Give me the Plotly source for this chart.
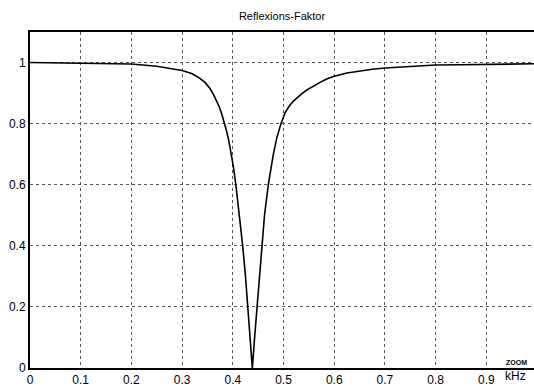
import plotly.graph_objects as go

freq_khz = [0.0, 0.05, 0.1, 0.15, 0.2, 0.25, 0.28, 0.3, 0.32, 0.335, 0.345, 0.355, 0.362,
            0.368, 0.373, 0.378, 0.383, 0.387, 0.392, 0.397, 0.401, 0.406, 0.413, 0.4195,
            0.425, 0.4293, 0.434, 0.4385, 0.443, 0.448, 0.4525, 0.4565, 0.4625, 0.470,
            0.475, 0.480, 0.487, 0.495, 0.503, 0.511, 0.519, 0.528, 0.537, 0.546, 0.558,
            0.572, 0.585, 0.6, 0.625, 0.65, 0.675, 0.7, 0.75, 0.8, 0.85, 0.9, 0.95, 1.0]
reflexion = [1.0, 0.999, 0.998, 0.997, 0.995, 0.988, 0.981, 0.974, 0.963, 0.948, 0.935,
             0.915, 0.895, 0.875, 0.856, 0.832, 0.805, 0.78, 0.745, 0.70, 0.66, 0.6, 0.5,
             0.4, 0.3, 0.2, 0.1, 0.0, 0.1, 0.2, 0.3, 0.4, 0.5, 0.6, 0.652, 0.7, 0.755, 0.8,
             0.835, 0.857, 0.873, 0.887, 0.899, 0.91, 0.922, 0.935, 0.946, 0.955, 0.966,
             0.973, 0.978, 0.982, 0.988, 0.992, 0.993, 0.994, 0.995, 0.996]
x_ticks = [0, 0.1, 0.2, 0.3, 0.4, 0.5, 0.6, 0.7, 0.8, 0.9]
x_tick_labels = ["0", "0.1", "0.2", "0.3", "0.4", "0.5", "0.6", "0.7", "0.8", "0.9"]
y_ticks = [0, 0.2, 0.4, 0.6, 0.8, 1.0]
y_tick_labels = ["0", "0.2", "0.4", "0.6", "0.8", "1"]

fig = go.Figure()
fig.add_trace(go.Scatter(x=freq_khz, y=reflexion, mode="lines",
                         line=dict(color="black", width=1.6), showlegend=False))

font_family = "Liberation Sans, Arial, sans-serif"
fig.update_layout(
    width=534, height=387,
    margin=dict(l=30, r=0, t=32, b=14),
    paper_bgcolor="white", plot_bgcolor="white",
    title=dict(text="Reflexions-Faktor", x=282 / 534, xanchor="center",
               y=1 - 16 / 387, yanchor="middle",
               font=dict(family=font_family, size=11, color="black")),
    font=dict(family=font_family, size=12, color="black"),
)
fig.update_xaxes(range=[0, 0.994], tickvals=x_ticks, ticktext=x_tick_labels,
                 showgrid=True, gridcolor="#555", griddash="dot", gridwidth=1,
                 showline=True, linecolor="black", linewidth=2, mirror=True,
                 ticks="", zeroline=False, tickfont=dict(size=12))
fig.update_yaxes(range=[0, 1.1], tickvals=y_ticks, ticktext=y_tick_labels,
                 showgrid=True, gridcolor="#555", griddash="dot", gridwidth=1,
                 showline=True, linecolor="black", linewidth=2, mirror=False,
                 ticks="", zeroline=False, tickfont=dict(size=12))

fig.add_annotation(text="kHz", xref="paper", yref="paper", x=(515 - 30) / 504,
                   y=(373 - 381) / 341, showarrow=False, xanchor="center", yanchor="middle",
                   font=dict(family=font_family, size=12, color="black"))
fig.add_annotation(text="<b>ZOOM</b>", xref="paper", yref="paper", x=(516 - 30) / 504,
                   y=(373 - 367) / 341, showarrow=False, xanchor="center", yanchor="middle",
                   font=dict(family=font_family, size=7, color="black"))

fig.write_html("out.html", config={"displayModeBar": False},
               post_script="document.body.style.margin='0';document.body.style.overflow='hidden';")
